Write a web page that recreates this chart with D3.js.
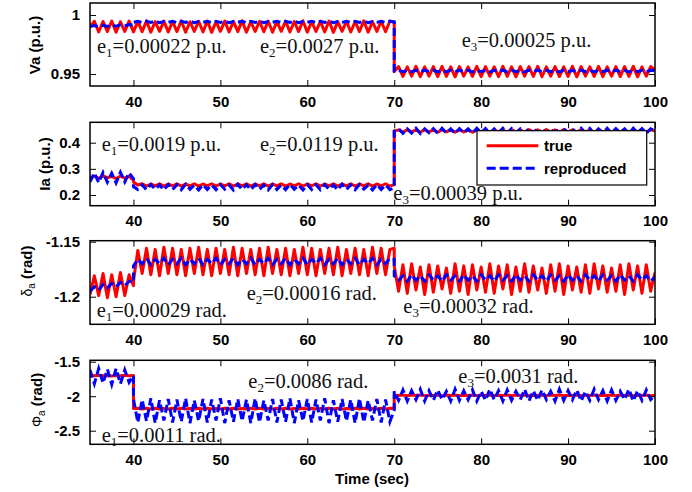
<!DOCTYPE html>
<html><head><meta charset="utf-8">
<script src="https://cdn.jsdelivr.net/npm/d3@7"></script>
<style>body{margin:0;background:#fff}svg{display:block}</style></head>
<body><svg id="c" width="692" height="492"></svg>
<script>
// ---------- sampling grid (seconds) ----------
const timeA = d3.range(35, 40.01, 0.5);   // 11 samples
const timeB = d3.range(40, 70.01, 0.5);   // 61 samples
const timeC = d3.range(70, 100.01, 0.5);  // 61 samples
const xTicks = [40, 50, 60, 70, 80, 90, 100];

// ---------- Va (p.u.) ----------
const vaTrueA = [0.9900,0.9947,0.9856,0.9945,0.9860,0.9949,0.9854,0.9943,0.9861,0.9948,0.9857];
const vaTrueB = [
0.9857,0.9946,0.9859,0.9950,0.9855,0.9944,0.9862,0.9948,0.9856,0.9945,
0.9860,0.9951,0.9854,0.9943,0.9861,0.9947,0.9857,0.9949,0.9853,0.9944,
0.9862,0.9948,0.9856,0.9946,0.9859,0.9950,0.9855,0.9943,0.9861,0.9947,
0.9858,0.9949,0.9854,0.9944,0.9862,0.9948,0.9856,0.9945,0.9860,0.9951,
0.9855,0.9943,0.9861,0.9946,0.9857,0.9949,0.9853,0.9944,0.9862,0.9947,
0.9856,0.9945,0.9860,0.9950,0.9855,0.9943,0.9861,0.9947,0.9858,0.9949,
0.9940];
const vaTrueC = [
0.9520,0.9563,0.9479,0.9561,0.9481,0.9564,0.9477,0.9560,0.9482,0.9562,
0.9478,0.9565,0.9480,0.9561,0.9476,0.9563,0.9481,0.9560,0.9479,0.9564,
0.9477,0.9562,0.9482,0.9561,0.9478,0.9565,0.9480,0.9560,0.9476,0.9563,
0.9481,0.9562,0.9479,0.9564,0.9477,0.9561,0.9482,0.9563,0.9478,0.9560,
0.9480,0.9565,0.9476,0.9562,0.9481,0.9561,0.9479,0.9564,0.9477,0.9560,
0.9482,0.9563,0.9478,0.9562,0.9480,0.9565,0.9476,0.9561,0.9481,0.9563,
0.9535];
const vaRepA = [0.9902,0.9910,0.9900,0.9912,0.9903,0.9914,0.9905,0.9916,0.9907,0.9919,0.9915];
const vaRepB = [
0.9938,0.9947,0.9936,0.9946,0.9937,0.9948,0.9935,0.9945,0.9938,0.9947,
0.9936,0.9946,0.9937,0.9948,0.9935,0.9945,0.9938,0.9947,0.9936,0.9946,
0.9937,0.9948,0.9935,0.9945,0.9938,0.9947,0.9936,0.9946,0.9937,0.9948,
0.9935,0.9945,0.9938,0.9947,0.9936,0.9946,0.9937,0.9948,0.9935,0.9945,
0.9938,0.9947,0.9936,0.9946,0.9937,0.9948,0.9935,0.9945,0.9938,0.9947,
0.9936,0.9946,0.9937,0.9948,0.9935,0.9945,0.9938,0.9947,0.9936,0.9946,
0.9942];
const vaRepC = [
0.9525,0.9532,0.9518,0.9533,0.9519,0.9531,0.9517,0.9532,0.9520,0.9533,
0.9518,0.9531,0.9519,0.9532,0.9517,0.9533,0.9520,0.9531,0.9518,0.9532,
0.9519,0.9533,0.9517,0.9531,0.9520,0.9532,0.9518,0.9533,0.9519,0.9531,
0.9517,0.9532,0.9520,0.9533,0.9518,0.9531,0.9519,0.9532,0.9517,0.9533,
0.9520,0.9531,0.9518,0.9532,0.9519,0.9533,0.9517,0.9531,0.9520,0.9532,
0.9518,0.9533,0.9519,0.9531,0.9517,0.9532,0.9520,0.9533,0.9518,0.9531,
0.9526];

// ---------- Ia (p.u.) ----------
const iaTrueA = [0.264,0.273,0.263,0.274,0.265,0.272,0.262,0.273,0.264,0.271,0.256];
const iaTrueB = [
0.250,0.238,0.243,0.234,0.242,0.235,0.243,0.234,0.242,0.235,
0.243,0.234,0.242,0.235,0.243,0.234,0.242,0.235,0.243,0.234,
0.242,0.235,0.243,0.234,0.242,0.235,0.243,0.234,0.242,0.235,
0.243,0.234,0.242,0.235,0.243,0.234,0.242,0.235,0.243,0.234,
0.242,0.235,0.243,0.234,0.242,0.235,0.243,0.234,0.242,0.235,
0.243,0.234,0.242,0.235,0.243,0.234,0.242,0.235,0.243,0.234,
0.240];
const iaTrueC = [
0.445,0.449,0.440,0.450,0.441,0.449,0.440,0.450,0.441,0.449,
0.440,0.450,0.441,0.449,0.440,0.450,0.441,0.449,0.440,0.450,
0.441,0.449,0.440,0.450,0.441,0.449,0.440,0.450,0.441,0.449,
0.440,0.450,0.441,0.449,0.440,0.450,0.441,0.449,0.440,0.450,
0.441,0.449,0.440,0.450,0.441,0.449,0.440,0.450,0.441,0.449,
0.440,0.450,0.441,0.449,0.440,0.450,0.441,0.449,0.440,0.450,
0.444];
const iaRepA = [0.250,0.284,0.247,0.286,0.249,0.283,0.246,0.287,0.250,0.285,0.262];
const iaRepB = [
0.232,0.221,0.239,0.220,0.240,0.222,0.238,0.219,0.240,0.221,
0.239,0.220,0.241,0.222,0.238,0.219,0.240,0.221,0.239,0.220,
0.240,0.222,0.238,0.219,0.241,0.221,0.239,0.220,0.240,0.222,
0.238,0.219,0.240,0.221,0.239,0.220,0.241,0.222,0.238,0.219,
0.240,0.221,0.239,0.220,0.240,0.222,0.238,0.219,0.241,0.221,
0.239,0.220,0.240,0.222,0.238,0.219,0.240,0.221,0.239,0.220,
0.228];
const iaRepC = [
0.444,0.454,0.436,0.453,0.437,0.455,0.435,0.453,0.438,0.454,
0.436,0.455,0.437,0.453,0.435,0.454,0.438,0.453,0.436,0.455,
0.437,0.454,0.435,0.453,0.438,0.455,0.436,0.454,0.437,0.453,
0.435,0.455,0.438,0.454,0.436,0.453,0.437,0.455,0.435,0.454,
0.438,0.453,0.436,0.455,0.437,0.454,0.435,0.453,0.438,0.455,
0.436,0.454,0.437,0.453,0.435,0.455,0.438,0.454,0.436,0.453,
0.446];

// ---------- delta_a (rad) ----------
const dTrueA = [-1.198,-1.181,-1.199,-1.179,-1.201,-1.180,-1.200,-1.178,-1.199,-1.180,-1.190];
const dTrueB = [
-1.186,-1.158,-1.179,-1.156,-1.180,-1.157,-1.181,-1.155,-1.179,-1.156,
-1.180,-1.157,-1.181,-1.156,-1.179,-1.155,-1.180,-1.157,-1.181,-1.156,
-1.179,-1.157,-1.180,-1.155,-1.181,-1.156,-1.179,-1.157,-1.180,-1.156,
-1.181,-1.155,-1.179,-1.157,-1.180,-1.156,-1.181,-1.157,-1.179,-1.155,
-1.180,-1.156,-1.181,-1.157,-1.179,-1.156,-1.180,-1.155,-1.181,-1.157,
-1.179,-1.156,-1.180,-1.157,-1.181,-1.155,-1.179,-1.156,-1.180,-1.157,
-1.156];
const dTrueC = [
-1.172,-1.195,-1.171,-1.197,-1.170,-1.194,-1.173,-1.198,-1.171,-1.196,
-1.172,-1.193,-1.174,-1.197,-1.170,-1.195,-1.172,-1.198,-1.171,-1.194,
-1.173,-1.196,-1.170,-1.197,-1.172,-1.193,-1.171,-1.198,-1.173,-1.195,
-1.170,-1.196,-1.172,-1.194,-1.174,-1.197,-1.171,-1.195,-1.170,-1.198,
-1.172,-1.194,-1.173,-1.196,-1.171,-1.197,-1.170,-1.193,-1.172,-1.196,
-1.174,-1.195,-1.171,-1.198,-1.170,-1.194,-1.172,-1.197,-1.171,-1.195,
-1.178];
const dRepA = [-1.195,-1.191,-1.194,-1.189,-1.192,-1.188,-1.191,-1.187,-1.190,-1.186,-1.187];
const dRepB = [
-1.172,-1.166,-1.170,-1.165,-1.171,-1.166,-1.170,-1.165,-1.171,-1.166,
-1.170,-1.165,-1.171,-1.166,-1.170,-1.165,-1.171,-1.166,-1.170,-1.165,
-1.171,-1.166,-1.170,-1.165,-1.171,-1.166,-1.170,-1.165,-1.171,-1.166,
-1.170,-1.165,-1.171,-1.166,-1.170,-1.165,-1.171,-1.166,-1.170,-1.165,
-1.171,-1.166,-1.170,-1.165,-1.171,-1.166,-1.170,-1.165,-1.171,-1.166,
-1.170,-1.165,-1.171,-1.166,-1.170,-1.165,-1.171,-1.166,-1.170,-1.165,
-1.166];
const dRepC = [
-1.181,-1.185,-1.181,-1.186,-1.180,-1.185,-1.181,-1.186,-1.180,-1.185,
-1.181,-1.186,-1.180,-1.185,-1.181,-1.186,-1.180,-1.185,-1.181,-1.186,
-1.180,-1.185,-1.181,-1.186,-1.180,-1.185,-1.181,-1.186,-1.180,-1.185,
-1.181,-1.186,-1.180,-1.185,-1.181,-1.186,-1.180,-1.185,-1.181,-1.186,
-1.180,-1.185,-1.181,-1.186,-1.180,-1.185,-1.181,-1.186,-1.180,-1.185,
-1.181,-1.186,-1.180,-1.185,-1.181,-1.186,-1.180,-1.185,-1.181,-1.186,
-1.182];

// ---------- Phi_a (rad) ----------
const pTrueA = [-1.700,-1.705,-1.698,-1.704,-1.699,-1.706,-1.700,-1.703,-1.698,-1.705,-1.702];
const pTrueB = [
-2.180,-2.175,-2.185,-2.176,-2.184,-2.175,-2.186,-2.177,-2.184,-2.176,
-2.185,-2.175,-2.184,-2.177,-2.186,-2.176,-2.185,-2.175,-2.184,-2.177,
-2.186,-2.176,-2.185,-2.175,-2.184,-2.177,-2.186,-2.176,-2.185,-2.175,
-2.184,-2.177,-2.186,-2.176,-2.185,-2.175,-2.184,-2.177,-2.186,-2.176,
-2.185,-2.175,-2.184,-2.177,-2.186,-2.176,-2.185,-2.175,-2.184,-2.177,
-2.186,-2.176,-2.185,-2.175,-2.184,-2.177,-2.186,-2.176,-2.185,-2.175,
-2.180];
const pTrueC = [
-1.985,-1.990,-1.983,-1.992,-1.984,-1.991,-1.983,-1.992,-1.985,-1.990,
-1.983,-1.992,-1.984,-1.991,-1.983,-1.992,-1.985,-1.990,-1.983,-1.992,
-1.984,-1.991,-1.983,-1.992,-1.985,-1.990,-1.983,-1.992,-1.984,-1.991,
-1.983,-1.992,-1.985,-1.990,-1.983,-1.992,-1.984,-1.991,-1.983,-1.992,
-1.985,-1.990,-1.983,-1.992,-1.984,-1.991,-1.983,-1.992,-1.985,-1.990,
-1.983,-1.992,-1.984,-1.991,-1.983,-1.992,-1.985,-1.990,-1.983,-1.992,
-1.990];
const pRepA = [-1.62,-1.82,-1.60,-1.81,-1.61,-1.83,-1.60,-1.82,-1.62,-1.80,-1.70];
const pRepB = [
-2.04,-2.38,-2.05,-2.36,-2.03,-2.39,-2.06,-2.35,-2.04,-2.38,
-2.05,-2.37,-2.03,-2.39,-2.06,-2.36,-2.04,-2.38,-2.05,-2.35,
-2.03,-2.39,-2.06,-2.37,-2.04,-2.36,-2.05,-2.39,-2.03,-2.38,
-2.06,-2.35,-2.04,-2.38,-2.05,-2.37,-2.03,-2.39,-2.06,-2.36,
-2.04,-2.38,-2.05,-2.35,-2.03,-2.39,-2.06,-2.37,-2.04,-2.36,
-2.05,-2.39,-2.03,-2.38,-2.06,-2.35,-2.04,-2.38,-2.05,-2.37,
-2.20];
const pRepC = [
-1.93,-2.06,-1.91,-2.07,-1.92,-2.05,-1.90,-2.07,-1.92,-2.06,
-1.91,-2.05,-1.93,-2.07,-1.90,-2.06,-1.92,-2.05,-1.91,-2.07,
-1.93,-2.06,-1.90,-2.05,-1.92,-2.07,-1.91,-2.06,-1.93,-2.05,
-1.90,-2.07,-1.92,-2.06,-1.91,-2.05,-1.93,-2.07,-1.90,-2.06,
-1.92,-2.05,-1.91,-2.07,-1.93,-2.06,-1.90,-2.05,-1.92,-2.07,
-1.91,-2.06,-1.93,-2.05,-1.90,-2.07,-1.92,-2.06,-1.91,-2.05,
-1.98];

// ---------- tick labels & annotations ----------
const yTicks1 = [0.95, 1],            yTickLabels1 = ["0.95", "1"];
const yTicks2 = [0.2, 0.3, 0.4],      yTickLabels2 = ["0.2", "0.3", "0.4"];
const yTicks3 = [-1.2, -1.15],        yTickLabels3 = ["-1.2", "-1.15"];
const yTicks4 = [-2.5, -2, -1.5],     yTickLabels4 = ["-2.5", "-2", "-1.5"];
const errLabels1 = [["1","=0.00022 p.u."],["2","=0.0027 p.u."],["3","=0.00025 p.u."]];
const errLabels2 = [["1","=0.0019 p.u."],["2","=0.0119 p.u."],["3","=0.00039 p.u."]];
const errLabels3 = [["1","=0.00029 rad."],["2","=0.00016 rad."],["3","=0.00032 rad."]];
const errLabels4 = [["1","=0.0011 rad."],["2","=0.0086 rad."],["3","=0.0031 rad."]];
const legendLabels = ["true", "reproduced"];

// ---------- drawing ----------
const svg = d3.select('#c');
const SANS = '"Liberation Sans", Arial, Helvetica, sans-serif';
const SERIF = '"Liberation Serif", "Times New Roman", serif';
const RED = '#ff0000', BLUE = '#0000ff';
const x = d3.scaleLinear().domain([35, 100]).range([90, 655]);

function joinSeg(a, b, c) {
  const pts = [];
  [[timeA, a], [timeB, b], [timeC, c]].forEach(([t, v]) => {
    const n = Math.min(t.length, v.length);
    for (let i = 0; i < n; i++) pts.push([t[i], v[i]]);
  });
  return pts;
}

const panels = [
  { top: 3, bottom: 86, domain: [0.9398, 1.0102], ticks: yTicks1, tickLabels: yTickLabels1,
    tru: joinSeg(vaTrueA, vaTrueB, vaTrueC), rep: joinSeg(vaRepA, vaRepB, vaRepC),
    ylab: { x: 35, y: 45, parts: [{t: "Va (p.u.)", bold: true}] },
    errs: errLabels1, errPos: [[97, 52.7], [260, 52.7], [461.7, 46.7]] },
  { top: 122.3, bottom: 205.7, domain: [0.159, 0.478], ticks: yTicks2, tickLabels: yTickLabels2,
    tru: joinSeg(iaTrueA, iaTrueB, iaTrueC), rep: joinSeg(iaRepA, iaRepB, iaRepC),
    ylab: { x: 45, y: 164, parts: [{t: "Ia (p.u.)", bold: true}] },
    errs: errLabels2, errPos: [[101.7, 151], [260, 151], [393.3, 200]] },
  { top: 240.7, bottom: 324.3, domain: [-1.2251, -1.1491], ticks: yTicks3, tickLabels: yTickLabels3,
    tru: joinSeg(dTrueA, dTrueB, dTrueC), rep: joinSeg(dRepA, dRepB, dRepC),
    ylab: { x: 27, y: 271, parts: [{t: "\u03b4", greek: true}, {t: "a", sub: true}, {t: " (rad)", bold: true}] },
    errs: errLabels3, errPos: [[96.7, 316.7], [246.7, 300], [403.3, 313.3]] },
  { top: 360.3, bottom: 444.3, domain: [-2.697, -1.48], ticks: yTicks4, tickLabels: yTickLabels4,
    tru: joinSeg(pTrueA, pTrueB, pTrueC), rep: joinSeg(pRepA, pRepB, pRepC),
    ylab: { x: 37, y: 400, parts: [{t: "\u03a6", greek: true}, {t: "a", sub: true}, {t: " (rad)", bold: true}] },
    errs: errLabels4, errPos: [[101.7, 442.3], [248.3, 388.3], [458.3, 383.3]] }
];

const defs = svg.append('defs');

panels.forEach((p, i) => {
  const y = d3.scaleLinear().domain(p.domain).range([p.bottom, p.top]);
  const g = svg.append('g');
  defs.append('clipPath').attr('id', 'clip' + i).append('rect')
    .attr('x', x.range()[0]).attr('y', p.top)
    .attr('width', x.range()[1] - x.range()[0]).attr('height', p.bottom - p.top);

  const line = d3.line().x(d => x(d[0])).y(d => y(d[1]));
  const plot = g.append('g').attr('clip-path', `url(#clip${i})`);
  plot.append('path').attr('d', line(p.tru)).attr('fill', 'none')
    .attr('stroke', RED).attr('stroke-width', 3).attr('stroke-linejoin', 'round');
  plot.append('path').attr('d', line(p.rep)).attr('fill', 'none')
    .attr('stroke', BLUE).attr('stroke-width', 3).attr('stroke-dasharray', '8,4');

  // axes (MATLAB box style with inward ticks on all sides)
  const tl = 6;
  const bottomAx = d3.axisBottom(x).tickValues(xTicks).tickSize(-tl).tickPadding(10).tickFormat(d3.format('d'));
  const topAx = d3.axisTop(x).tickValues(xTicks).tickSize(-tl).tickFormat('');
  const leftAx = d3.axisLeft(y).tickValues(p.ticks).tickSize(-tl).tickPadding(10)
    .tickFormat((d, k) => p.tickLabels[k]);
  const rightAx = d3.axisRight(y).tickValues(p.ticks).tickSize(-tl).tickFormat('');
  const axes = [
    g.append('g').attr('transform', `translate(0,${p.bottom})`).call(bottomAx),
    g.append('g').attr('transform', `translate(0,${p.top})`).call(topAx),
    g.append('g').attr('transform', `translate(${x.range()[0]},0)`).call(leftAx),
    g.append('g').attr('transform', `translate(${x.range()[1]},0)`).call(rightAx)
  ];
  axes.forEach(a => {
    a.select('.domain').remove();
    a.selectAll('line').attr('stroke', '#000').attr('stroke-width', 1);
    a.selectAll('text').attr('fill', '#000').attr('font-family', SANS)
      .attr('font-weight', 'bold').attr('font-size', 15);
  });
  g.append('rect').attr('x', x.range()[0]).attr('y', p.top)
    .attr('width', x.range()[1] - x.range()[0]).attr('height', p.bottom - p.top)
    .attr('fill', 'none').attr('stroke', '#000').attr('stroke-width', 1.5);

  // y label
  const yl = svg.append('text')
    .attr('transform', `translate(${p.ylab.x},${p.ylab.y}) rotate(-90)`)
    .attr('text-anchor', 'middle').attr('dy', '0.35em')
    .attr('font-family', SANS).attr('font-size', 15).attr('fill', '#000');
  p.ylab.parts.forEach(pt => {
    const ts = yl.append('tspan').text(pt.t);
    if (pt.bold) ts.attr('font-weight', 'bold');
    if (pt.greek) ts.attr('font-size', 14);
    if (pt.sub) ts.attr('font-size', 10).attr('baseline-shift', '-30%');
  });

  // error annotations
  p.errs.forEach((e, k) => {
    const t = svg.append('text').attr('x', p.errPos[k][0]).attr('y', p.errPos[k][1])
      .attr('font-family', SERIF).attr('font-size', 20.5).attr('fill', '#111');
    t.append('tspan').text('e');
    t.append('tspan').text(e[0]).attr('font-size', 13).attr('dy', 4);
    t.append('tspan').text(e[1]).attr('dy', -4);
  });
});

// x label
svg.append('text').attr('x', 372).attr('y', 484).attr('text-anchor', 'middle')
  .attr('font-family', SANS).attr('font-weight', 'bold').attr('font-size', 15)
  .text('Time (sec)');

// legend
const lg = svg.append('g');
lg.append('rect').attr('x', 477).attr('y', 130.7).attr('width', 169.7).attr('height', 54.3)
  .attr('fill', '#fff').attr('stroke', '#000').attr('stroke-width', 1.2);
const legStyles = [{c: RED, dash: null, y: 145.7}, {c: BLUE, dash: '9,4', y: 168.3}];
legendLabels.forEach((lab, k) => {
  const s = legStyles[k];
  const ln = lg.append('line').attr('x1', 486.7).attr('x2', 538.3).attr('y1', s.y).attr('y2', s.y)
    .attr('stroke', s.c).attr('stroke-width', 3);
  if (s.dash) ln.attr('stroke-dasharray', s.dash);
  lg.append('text').attr('x', 544).attr('y', s.y).attr('dy', '0.35em')
    .attr('font-family', SANS).attr('font-weight', 'bold').attr('font-size', 15)
    .attr('fill', '#000').text(lab);
});
</script></body></html>
